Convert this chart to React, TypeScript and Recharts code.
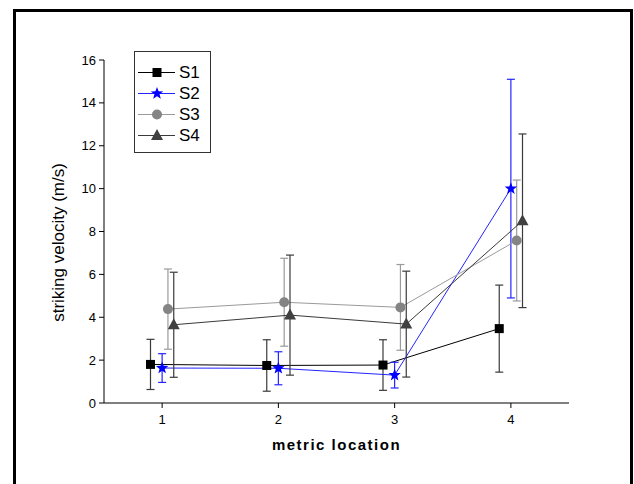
import { ErrorBar, Legend, Line, LineChart, XAxis, YAxis } from 'recharts';

const FONT = '"Liberation Sans", Arial, sans-serif';

// metric locations along the x axis
const locations = [1, 2, 3, 4];

// mean striking velocity (m/s) and its error per location
const s1Mean = [1.8, 1.75, 1.77, 3.47];
const s1Err = [1.17, 1.2, 1.18, 2.03];
const s2Mean = [1.63, 1.62, 1.3, 10.0];
const s2Err = [0.67, 0.77, 0.6, 5.1];
const s3Mean = [4.38, 4.7, 4.46, 7.58];
const s3Err = [1.87, 2.05, 2.0, 2.82];
const s4Mean = [3.65, 4.1, 3.68, 8.5];
const s4Err = [2.45, 2.8, 2.47, 4.05];

const xTicks = [1, 2, 3, 4];
const yMajorTicks = [0, 2, 4, 6, 8, 10, 12, 14, 16];
const yMinorTicks = [1, 3, 5, 7, 9, 11, 13, 15];

type Shape = 'square' | 'star' | 'circle' | 'triangle';

interface SeriesDef {
  name: string;
  mean: number[];
  err: number[];
  shift: number; // horizontal nudge so the error bars don't overlap
  shape: Shape;
  line: string;
  fill: string;
  bar: string;
}

const series: SeriesDef[] = [
  { name: 'S1', mean: s1Mean, err: s1Err, shift: -0.1, shape: 'square', line: '#000000', fill: '#000000', bar: '#3a3a3a' },
  { name: 'S2', mean: s2Mean, err: s2Err, shift: 0, shape: 'star', line: '#2424ff', fill: '#0000ff', bar: '#2424ff' },
  { name: 'S3', mean: s3Mean, err: s3Err, shift: 0.05, shape: 'circle', line: '#9a9a9a', fill: '#848484', bar: '#9a9a9a' },
  { name: 'S4', mean: s4Mean, err: s4Err, shift: 0.1, shape: 'triangle', line: '#3a3a3a', fill: '#404040', bar: '#3a3a3a' },
];

function starPoints(cx: number, cy: number, outer: number, inner: number) {
  const pts: string[] = [];
  for (let i = 0; i < 10; i++) {
    const r = i % 2 === 0 ? outer : inner;
    const a = -Math.PI / 2 + (i * Math.PI) / 5;
    pts.push(`${cx + r * Math.cos(a)},${cy + r * Math.sin(a)}`);
  }
  return pts.join(' ');
}

function Marker({ shape, cx, cy, fill }: { shape: Shape; cx: number; cy: number; fill: string }) {
  if (shape === 'square') {
    return <rect x={cx - 4.5} y={cy - 4.5} width={9} height={9} fill={fill} />;
  }
  if (shape === 'star') {
    return <polygon points={starPoints(cx, cy, 6.5, 2.7)} fill={fill} />;
  }
  if (shape === 'circle') {
    return <circle cx={cx} cy={cy} r={5} fill={fill} />;
  }
  return (
    <polygon
      points={`${cx},${cy - 6.5} ${cx + 6},${cy + 4.5} ${cx - 6},${cy + 4.5}`}
      fill={fill}
    />
  );
}

const renderLegend = () => (
  <div
    style={{
      width: 77,
      height: 102,
      boxSizing: 'border-box',
      border: '1.5px solid #333',
      background: '#fff',
      paddingTop: 10,
    }}
  >
    {series.map((s) => (
      <div key={s.name} style={{ display: 'flex', alignItems: 'center', height: 21 }}>
        <svg width={44} height={21}>
          <line x1={3} x2={40} y1={10.5} y2={10.5} stroke={s.line} strokeWidth={1} />
          <Marker shape={s.shape} cx={22} cy={10.5} fill={s.fill} />
        </svg>
        <span style={{ fontFamily: FONT, fontSize: 17, color: '#000', lineHeight: '21px' }}>
          {s.name}
        </span>
      </div>
    ))}
  </div>
);

const YTitle = (props: any) => {
  const { x, y, width, height } = props.viewBox;
  const cx = x + width / 2 - 1;
  const cy = y + height / 2 + 11;
  return (
    <text
      x={cx}
      y={cy}
      transform={`rotate(-90, ${cx}, ${cy})`}
      textAnchor="middle"
      dominantBaseline="central"
      fontFamily={FONT}
      fontSize={17}
      fill="#000"
    >
      striking velocity (m/s)
    </text>
  );
};

const XTitle = (props: any) => {
  const { x, y, width } = props.viewBox;
  return (
    <text
      x={x + width / 2}
      y={y + 47}
      textAnchor="middle"
      fontFamily={FONT}
      fontSize={15}
      fontWeight="bold"
      letterSpacing={1.5}
      fill="#000"
    >
      metric location
    </text>
  );
};

export default function App() {
  return (
    <div
      style={{
        position: 'absolute',
        left: 0,
        top: 0,
        width: 634,
        height: 484,
        overflow: 'hidden',
        background: '#fff',
      }}
    >
      <div
        style={{
          position: 'absolute',
          left: 13,
          top: 9,
          width: 620,
          height: 520,
          boxSizing: 'border-box',
          border: '3px solid #000',
        }}
      />
      <LineChart
        width={634}
        height={484}
        margin={{ top: 60, right: 65, left: 14, bottom: 31 }}
        style={{ position: 'absolute', left: 0, top: 0 }}
      >
        <XAxis
          dataKey="x"
          type="number"
          domain={[0.5, 4.5]}
          ticks={xTicks}
          height={50}
          tickSize={5}
          tickMargin={7}
          stroke="#000"
          tick={{ fontSize: 13, fill: '#000', fontFamily: FONT }}
          label={{ content: XTitle }}
        />
        <YAxis
          yAxisId="v"
          type="number"
          domain={[0, 16]}
          ticks={yMajorTicks}
          width={90}
          tickSize={5}
          tickMargin={3}
          stroke="#000"
          tick={{ fontSize: 13, fill: '#000', fontFamily: FONT }}
          label={{ content: YTitle }}
        />
        <YAxis
          yAxisId="minor"
          type="number"
          domain={[0, 16]}
          ticks={yMinorTicks}
          width={0}
          tickSize={2}
          tick={false}
          axisLine={false}
          stroke="#000"
        />
        <Legend
          layout="vertical"
          align="center"
          verticalAlign="middle"
          wrapperStyle={{ left: 134, top: 51, width: 77 }}
          content={renderLegend}
        />
        {series.map((s) => (
          <Line
            key={s.name}
            yAxisId="v"
            name={s.name}
            data={locations.map((loc, i) => ({ x: loc + s.shift, v: s.mean[i], e: s.err[i] }))}
            dataKey="v"
            stroke={s.line}
            strokeWidth={1}
            isAnimationActive={false}
            dot={(p: any) => (
              <Marker key={`${s.name}-${p.index}`} shape={s.shape} cx={p.cx} cy={p.cy} fill={s.fill} />
            )}
            activeDot={false}
          >
            <ErrorBar dataKey="e" direction="y" width={4} stroke={s.bar} strokeWidth={1.2} />
          </Line>
        ))}
      </LineChart>
    </div>
  );
}
